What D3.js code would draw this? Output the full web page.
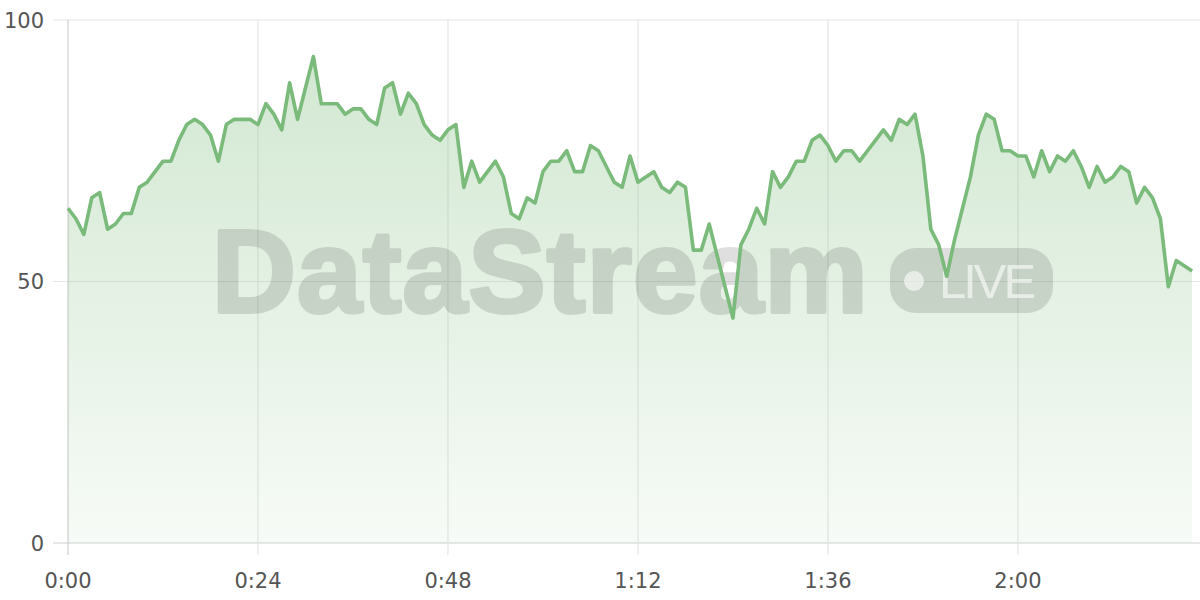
<!DOCTYPE html>
<html>
<head>
<meta charset="utf-8">
<script src="https://cdn.jsdelivr.net/npm/d3@7"></script>
<style>
  html, body { margin: 0; padding: 0; background: #fff; }
  svg { display: block; }
</style>
</head>
<body>
<svg id="chart" width="1200" height="600"></svg>
<script>
// ---- data (minutes since start, one sample per minute) ----
const values = [
  64, 62, 59, 66, 67, 60, 61, 63, 63, 68, 69, 71, 73, 73, 77, 80, 81, 80, 78, 73,
  80, 81, 81, 81, 80, 84, 82, 79, 88, 81, 87, 93, 84, 84, 84, 82, 83, 83, 81, 80,
  87, 88, 82, 86, 84, 80, 78, 77, 79, 80, 68, 73, 69, 71, 73, 70, 63, 62, 66, 65,
  71, 73, 73, 75, 71, 71, 76, 75, 72, 69, 68, 74, 69, 70, 71, 68, 67, 69, 68, 56,
  56, 61, 55, 49, 43, 57, 60, 64, 61, 71, 68, 70, 73, 73, 77, 78, 76, 73, 75, 75,
  73, 75, 77, 79, 77, 81, 80, 82, 74, 60, 57, 51, 58, 64, 70, 78, 82, 81, 75, 75,
  74, 74, 70, 75, 71, 74, 73, 75, 72, 68, 72, 69, 70, 72, 71, 65, 68, 66, 62, 49,
  54, 53, 52
];
const minutes = values.map((_, i) => i);
const xTicks = [0, 24, 48, 72, 96, 120];
const yTicks = [0, 50, 100];
const watermarkText = "DataStream";
const badgeText = "LIVE";

(function () {
  // ---- layout ----
  const svg = d3.select("#chart");
  const mLeft = 68, mRight = 1200, mTop = 20, mBottom = 543;
  const x = d3.scaleLinear().domain([0, 143]).range([mLeft, mRight]);
  const y = d3.scaleLinear().domain([0, 100]).range([mBottom, mTop]);
  const fmt = m => Math.floor(m / 60) + ":" + String(m % 60).padStart(2, "0");
  const lineColor = "#7aba7a";
  const font = "'DejaVu Sans', sans-serif";

  svg.append("rect").attr("width", 1200).attr("height", 600).attr("fill", "#fff");

  const defs = svg.append("defs");
  const grad = defs.append("linearGradient")
    .attr("id", "areaGrad").attr("gradientUnits", "userSpaceOnUse")
    .attr("x1", 0).attr("x2", 0).attr("y1", y(100)).attr("y2", y(0));
  grad.append("stop").attr("offset", 0).attr("stop-color", lineColor).attr("stop-opacity", 0.36);
  grad.append("stop").attr("offset", 1).attr("stop-color", lineColor).attr("stop-opacity", 0.06);

  // grid
  const grid = svg.append("g");
  grid.selectAll(".hg").data(yTicks).join("line")
    .attr("x1", mLeft - 15).attr("x2", mRight)
    .attr("y1", d => y(d)).attr("y2", d => y(d))
    .attr("stroke", d => d === 0 ? "#cfcfcf" : "#e6e6e6").attr("stroke-width", 1.2);
  grid.selectAll(".vg").data(xTicks).join("line")
    .attr("x1", d => x(d)).attr("x2", d => x(d))
    .attr("y1", mTop).attr("y2", mBottom + 12)
    .attr("stroke", d => d === 0 ? "#cfcfcf" : "#e6e6e6").attr("stroke-width", 1.2);

  // area
  const area = d3.area().x((d, i) => x(minutes[i])).y0(y(0)).y1(d => y(d));
  svg.append("path").datum(values).attr("d", area).attr("fill", "url(#areaGrad)");

  // watermark (opaque shapes inside a translucent group)
  const wm = svg.append("g").attr("opacity", 0.12);
  wm.append("text").text(watermarkText)
    .attr("x", 212).attr("y", 312)
    .attr("font-family", "'Liberation Sans', Arial, sans-serif")
    .attr("font-weight", 700).attr("font-size", 116)
    .attr("letter-spacing", 1.2)
    .attr("fill", "#000").attr("stroke", "#000").attr("stroke-width", 4)
    .attr("stroke-linejoin", "round");
  wm.append("rect").attr("x", 890).attr("y", 248).attr("width", 163).attr("height", 65)
    .attr("rx", 26).attr("fill", "#000");
  const badge = svg.append("g").attr("opacity", 0.6);
  badge.append("circle").attr("cx", 914).attr("cy", 281).attr("r", 10)
    .attr("fill", "#fff");
  badge.append("text").text(badgeText)
    .attr("x", 939).attr("y", 298)
    .attr("font-family", "'Liberation Sans', Arial, sans-serif")
    .attr("font-weight", 400).attr("font-size", 49)
    .attr("letter-spacing", -3)
    .attr("fill", "#fff");

  // line
  const line = d3.line().x((d, i) => x(minutes[i])).y(d => y(d));
  svg.append("path").datum(values).attr("d", line)
    .attr("fill", "none").attr("stroke", lineColor)
    .attr("stroke-width", 3.6).attr("stroke-linejoin", "round");

  // axis labels
  svg.selectAll(".yl").data(yTicks).join("text")
    .attr("x", 44).attr("y", d => y(d)).attr("dy", "0.36em")
    .attr("text-anchor", "end")
    .attr("font-family", font).attr("font-size", 21).attr("fill", "#555")
    .text(d => d);
  svg.selectAll(".xl").data(xTicks).join("text")
    .attr("x", d => x(d)).attr("y", 588)
    .attr("text-anchor", "middle")
    .attr("font-family", font).attr("font-size", 21).attr("fill", "#555")
    .text(d => fmt(d));
})();
</script>
</body>
</html>
